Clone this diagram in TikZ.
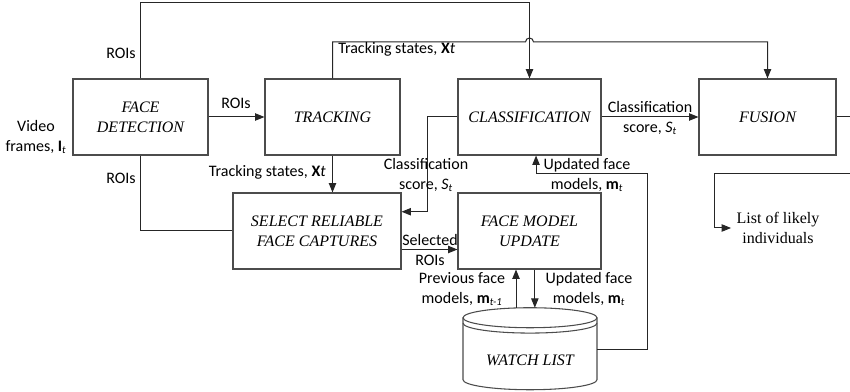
\documentclass[tikz,border=0pt]{standalone}
\usepackage{fontspec}
\setmainfont{Liberation Serif}
\setsansfont{Carlito}
\usetikzlibrary{arrows.meta,calc}
\tikzset{
  dob/.style={draw=black!70,line width=0.8pt,minimum height=57pt,align=center,
    font=\rmfamily\fontsize{12}{15}\selectfont\itshape},
  nyil/.style={-{Triangle[length=7pt,width=5.5pt]}},
  vonal/.style={draw=black!85,line width=0.75pt},
  cimke/.style={inner sep=0pt,align=center,font=\sffamily\fontsize{12}{15}\selectfont},
  hal/.style={draw=black!70,line width=0.8pt},
}
\newcommand{\idx}[1]{\textsubscript{\itshape #1}}

\begin{document}
\begin{tikzpicture}[x=0.75pt,y=-0.75pt]
  \useasboundingbox (0,0) rectangle (850,392);
  % blokkok
  \node[dob,minimum width=101.25pt] (fd) at (140.5,117) {FACE\\DETECTION};
  \node[dob,minimum width=101.25pt] (trk) at (332.5,117) {TRACKING};
  \node[dob,minimum width=107.25pt] (cls) at (529.5,117) {CLASSIFICATION};
  \node[dob,minimum width=102.75pt] (fus) at (767.5,117) {FUSION};
  \node[dob,minimum width=126pt] (sel) at (317,231) {SELECT RELIABLE\\FACE CAPTURES};
  \node[dob,minimum width=107.25pt] (fmu) at (529.5,231) {FACE MODEL\\UPDATE};
  % watch list henger
  \node[minimum width=100.5pt,minimum height=61.5pt,inner sep=0pt] (wl) at (530,349) {};
  \path (wl.north) ++(0,10) coordinate (ct);
  \draw[hal] (ct) ellipse [x radius=50.25pt,y radius=7.5pt];
  \draw[hal] ([xshift=-50.25pt]ct) -- ++(0,62)
    arc[start angle=180,end angle=360,x radius=50.25pt,y radius=7.5pt] -- ++(0,-62);
  \draw[hal] ([xshift=-50.25pt,yshift=-4pt]ct)
    arc[start angle=180,end angle=360,x radius=50.25pt,y radius=7.5pt];
  \node[dob,draw=none,minimum height=0pt,inner sep=0pt] (wlcim) at ($(wl.center)+(0,11)$) {WATCH LIST};

  % kapcsolatok
  \draw[vonal,nyil] (fd.north) -- (fd.north |- 0,3) -| (cls.north);
  \draw[vonal,nyil] (trk.north) |- ($(cls.north |- 0,42)+(-4,0)$)
    arc[start angle=180,end angle=0,radius=3pt] -| (fus.north);
  \draw[vonal,nyil] (fd.east) -- (trk.west);
  \draw[vonal] (fd.south) |- (sel.west);
  \draw[vonal,nyil] (trk.south) -- (trk.south |- sel.north);
  \coordinate (selin) at ($(sel.north east)!.25!(sel.south east)$);
  \draw[vonal,nyil] (cls.west) -| ($(selin)+(26,0)$) -- (selin);
  \coordinate (selout) at ($(sel.north east)!.74!(sel.south east)$);
  \draw[vonal,nyil] (selout) -- (selout -| fmu.west);
  \draw[vonal,nyil] ([xshift=-10.5pt]wl.north) -- ([xshift=-10.5pt]wl.north |- fmu.south);
  \draw[vonal,nyil] ([xshift=4pt]fmu.south) -- ([xshift=4pt]fmu.south |- wl.north);
  \coordinate (vissza) at (647,174);
  \draw[vonal,nyil] (wl.east) -| (vissza) -| ([xshift=4.9pt]cls.south);
  \draw[vonal,nyil] (cls.east) -- (fus.west);
  \coordinate (szelA) at (850,117);
  \coordinate (szelB) at (850,174);
  \draw[vonal] (fus.east) -- (szelA);
  \node[inner sep=4pt,align=center,font=\rmfamily\fontsize{12}{15}\selectfont] (list) at (778,228)
    {List of likely\\individuals};
  \draw[vonal,nyil] (szelB) -| ($(list.west)+(-17,0)$) -- (list.west);

  % feliratok
  \node[cimke] (video) at (36,137) {Video\\frames, \textbf{I}\idx{t}};
  \node[cimke,anchor=east] (roiA) at (136,53) {ROIs};
  \node[cimke] (roiB) at (236,103) {ROIs};
  \node[cimke,anchor=east] (roiC) at (136,178) {ROIs};
  \node[cimke,anchor=west] (trA) at (338,49) {Tracking states, \textbf{X}\textit{t}};
  \node[cimke,anchor=east] (trB) at (326,172) {Tracking states, \textbf{X}\textit{t}};
  \node[cimke] (scA) at (426,175) {Classification\\score, \textit{S}\idx{t}};
  \node[cimke] (scB) at (650,118) {Classification\\score, \textit{S}\idx{t}};
  \node[cimke] (upA) at (587,175) {Updated face\\models, \textbf{m}\idx{t}};
  \node[cimke] (selr) at (430,250) {Selected\\ROIs};
  \node[cimke] (prev) at (462,289) {Previous face\\models, \textbf{m}\idx{t-1}};
  \node[cimke] (upB) at (589,289) {Updated face\\models, \textbf{m}\idx{t}};
\end{tikzpicture}
\end{document}
